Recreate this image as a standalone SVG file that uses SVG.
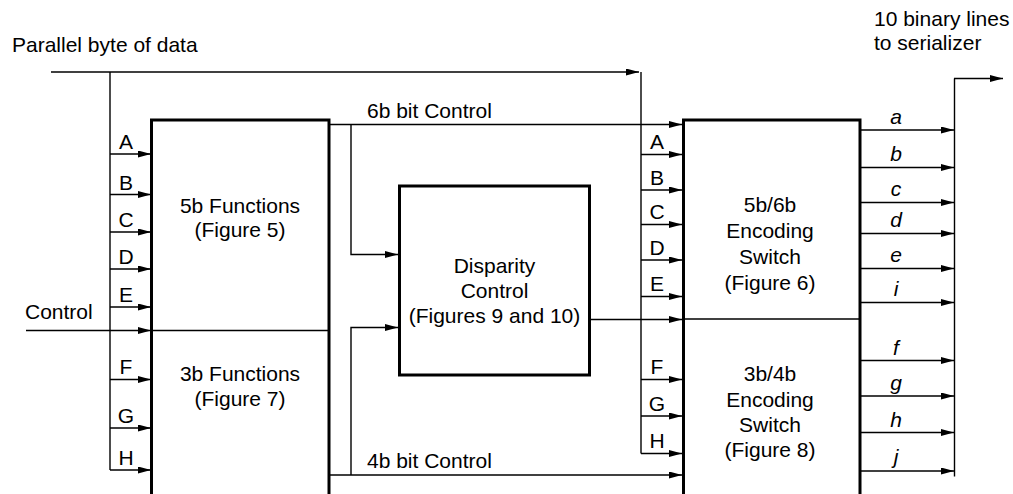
<svg xmlns="http://www.w3.org/2000/svg" width="1013" height="494" viewBox="0 0 1013 494">
<style>
text{font-family:"Liberation Sans",Arial,sans-serif;font-size:21px;fill:#000}
.c{text-anchor:middle}
.i{font-style:italic;text-anchor:middle}
.w{fill:none;stroke:#000;stroke-width:1.4}
.a{fill:none;stroke:#000;stroke-width:1.4;marker-end:url(#ah)}
.box{fill:#fff;stroke:#000;stroke-width:3}
.div{stroke:#000;stroke-width:1.4}
</style>
<defs>
<marker id="ah" markerUnits="userSpaceOnUse" markerWidth="14" markerHeight="8" refX="13" refY="3.5" orient="auto">
<path d="M0,0 L13,3.5 L0,7 z" fill="#000"/>
</marker>
</defs>
<rect width="1013" height="494" fill="#fff"/>
<g id="connectors">
<path class="a" d="M51,72 H639"/>
<path class="w" d="M110,72 V470"/>
<path class="a" d="M110,154 H151"/>
<path class="a" d="M110,194.5 H151"/>
<path class="a" d="M110,232 H151"/>
<path class="a" d="M110,269 H151"/>
<path class="a" d="M110,307 H151"/>
<path class="a" d="M26,330.5 H151"/>
<path class="a" d="M110,379.5 H151"/>
<path class="a" d="M110,428 H151"/>
<path class="a" d="M110,470 H151"/>
<path class="a" d="M330,124.5 H682"/>
<path class="a" d="M351,124.5 V254.5 H398"/>
<path class="a" d="M330,475 H682"/>
<path class="a" d="M351,475 V327.5 H398"/>
<path class="a" d="M590,319.5 H682"/>
<path class="w" d="M641,72 V453.5"/>
<path class="a" d="M641,154.5 H682"/>
<path class="a" d="M641,190 H682"/>
<path class="a" d="M641,224.5 H682"/>
<path class="a" d="M641,260 H682"/>
<path class="a" d="M641,296.5 H682"/>
<path class="a" d="M641,379.5 H682"/>
<path class="a" d="M641,416 H682"/>
<path class="a" d="M641,453.5 H682"/>
<path class="a" d="M861,130 H954"/>
<path class="a" d="M861,167.5 H954"/>
<path class="a" d="M861,202.5 H954"/>
<path class="a" d="M861,233.5 H954"/>
<path class="a" d="M861,268.5 H954"/>
<path class="a" d="M861,302.5 H954"/>
<path class="a" d="M861,360.5 H954"/>
<path class="a" d="M861,396 H954"/>
<path class="a" d="M861,432.5 H954"/>
<path class="a" d="M861,471 H954"/>
<path class="w" d="M954.5,476.5 V78.5"/>
<path class="a" d="M954,78.5 H1003"/>
</g>
<g id="labels">
<text x="12" y="52">Parallel byte of data</text>
<text x="874" y="26">10 binary lines</text>
<text x="874" y="50">to serializer</text>
<text x="25" y="319">Control</text>
<text x="367" y="118">6b bit Control</text>
<text x="367" y="468">4b bit Control</text>
<text class="c" x="126" y="149">A</text>
<text class="c" x="126" y="189.5">B</text>
<text class="c" x="126" y="227">C</text>
<text class="c" x="126" y="263.5">D</text>
<text class="c" x="126" y="301.5">E</text>
<text class="c" x="126" y="374">F</text>
<text class="c" x="126" y="422.5">G</text>
<text class="c" x="126" y="464.5">H</text>
<text class="c" x="657" y="148.5">A</text>
<text class="c" x="657" y="184.5">B</text>
<text class="c" x="657" y="219">C</text>
<text class="c" x="657" y="254.5">D</text>
<text class="c" x="657" y="291">E</text>
<text class="c" x="657" y="374">F</text>
<text class="c" x="657" y="410.5">G</text>
<text class="c" x="657" y="448">H</text>
<text class="i" x="896" y="124">a</text>
<text class="i" x="896" y="161">b</text>
<text class="i" x="896" y="196">c</text>
<text class="i" x="896" y="227">d</text>
<text class="i" x="896" y="262">e</text>
<text class="i" x="896" y="296">i</text>
<text class="i" x="896" y="355">f</text>
<text class="i" x="896" y="390">g</text>
<text class="i" x="896" y="426.5">h</text>
<text class="i" x="896" y="464">j</text>
</g>
<g id="functions5b3b">
<rect class="box" x="151.5" y="120" width="177.5" height="380"/>
<line class="div" x1="152" y1="330.5" x2="329" y2="330.5"/>
<text class="c" x="240" y="213">5b Functions</text>
<text class="c" x="240" y="237">(Figure 5)</text>
<text class="c" x="240" y="381">3b Functions</text>
<text class="c" x="240" y="406">(Figure 7)</text>
</g>
<g id="disparity">
<rect class="box" x="399.5" y="186" width="190" height="189" stroke-width="2.5"/>
<text class="c" x="494.5" y="273">Disparity</text>
<text class="c" x="494.5" y="298">Control</text>
<text class="c" x="494.5" y="322.5">(Figures 9 and 10)</text>
</g>
<g id="encoding">
<rect class="box" x="683.5" y="120" width="176.5" height="380"/>
<line class="div" x1="684" y1="319" x2="860" y2="319"/>
<text class="c" x="770" y="212">5b/6b</text>
<text class="c" x="770" y="238">Encoding</text>
<text class="c" x="770" y="264">Switch</text>
<text class="c" x="770" y="289.5">(Figure 6)</text>
<text class="c" x="770" y="381">3b/4b</text>
<text class="c" x="770" y="406.5">Encoding</text>
<text class="c" x="770" y="431.5">Switch</text>
<text class="c" x="770" y="456.5">(Figure 8)</text>
</g>
</svg>
